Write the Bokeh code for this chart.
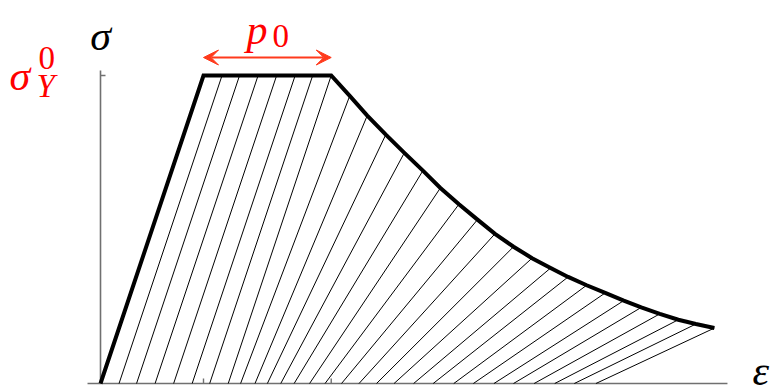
from bokeh.plotting import figure
from bokeh.models import Range1d, Arrow, VeeHead, ColumnDataSource
from bokeh.core.properties import value
from bokeh.embed import file_html
from bokeh.resources import INLINE

# Stress-strain response (strain in units of eps_y, stress in units of sigma_y)
eps_y = 1.0
sig_y = 1.0
p0 = 1.24

# unloading lines drawn from the plateau (elastic unloading, full stiffness)
plateau_eps = [1.18, 1.35, 1.53, 1.71, 1.89, 2.06, 2.24]
plateau_res = [0.18, 0.35, 0.53, 0.71, 0.89, 1.06, 1.24]

# softening branch: strain, stress and residual strain after unloading
soft_eps = [2.42, 2.59, 2.77, 2.95, 3.13, 3.30, 3.48, 3.66, 3.83, 4.01, 4.19,
            4.37, 4.54, 4.72, 4.90, 5.08, 5.25, 5.43, 5.61, 5.78, 5.96]
soft_sig = [0.934, 0.870, 0.808, 0.749, 0.691, 0.635, 0.582, 0.532, 0.486, 0.444, 0.407,
            0.375, 0.346, 0.319, 0.294, 0.269, 0.247, 0.226, 0.207, 0.193, 0.180]
soft_res = [1.36, 1.50, 1.62, 1.75, 1.88, 2.03, 2.18, 2.34, 2.51, 2.68, 2.85,
            3.04, 3.23, 3.43, 3.62, 3.82, 4.01, 4.21, 4.41, 4.60, 4.81]

# axis extents
x_axis_span = [-0.126, 6.087]
y_axis_top = 1.016

W, H = 784, 388
PX_X, PX_Y = 103.0, 308.0   # pixels per unit strain / stress
X0, Y0 = 100.0, 383.0       # pixel position of the origin


def dx(px):
    return (px - X0) / PX_X


def dy(py):
    return (Y0 - py) / PX_Y


p = figure(width=W, height=H, output_backend="svg", toolbar_location=None,
           x_axis_location=None, y_axis_location=None,
           x_range=Range1d(dx(0), dx(W)), y_range=Range1d(dy(H), dy(0)),
           min_border=0, min_border_left=0, min_border_right=0,
           min_border_top=0, min_border_bottom=0)
p.grid.visible = False
p.outline_line_color = None
p.background_fill_color = "white"
p.border_fill_color = "white"

axis_color = "#707070"
# axes
p.segment(x0=[x_axis_span[0]], y0=[0], x1=[x_axis_span[1]], y1=[0],
          line_color=axis_color, line_width=1.6)
p.segment(x0=[0], y0=[0], x1=[0], y1=[y_axis_top], line_color=axis_color, line_width=1.6)
# ticks at sigma_y, eps_y and eps_y + p0
tick_len_x = 5 / PX_X
tick_len_y = 5 / PX_Y
p.segment(x0=[0], y0=[sig_y], x1=[tick_len_x], y1=[sig_y], line_color=axis_color, line_width=1.4)
p.segment(x0=[eps_y, eps_y + p0], y0=[0, 0], x1=[eps_y, eps_y + p0], y1=[tick_len_y, tick_len_y],
          line_color=axis_color, line_width=1.4)

# unloading hatch lines
top_x = plateau_eps + soft_eps
top_y = [sig_y] * len(plateau_eps) + soft_sig
bot_x = plateau_res + soft_res
hatch = ColumnDataSource(dict(x0=top_x, y0=top_y, x1=bot_x, y1=[0] * len(bot_x)))
p.segment(x0="x0", y0="y0", x1="x1", y1="y1", source=hatch, line_color="black", line_width=1)

# envelope curve
curve_x = [0, eps_y, eps_y + p0] + soft_eps
curve_y = [0, sig_y, sig_y] + soft_sig
p.line(curve_x, curve_y, line_color="black", line_width=4, line_join="miter")

# p0 arrow
arrow_color = "#ff3a1c"
arrow_y = dy(57)
p.add_layout(Arrow(start=VeeHead(size=15, fill_color=arrow_color, line_color=arrow_color, line_width=1),
                   end=VeeHead(size=15, fill_color=arrow_color, line_color=arrow_color, line_width=1),
                   x_start=eps_y, y_start=arrow_y, x_end=eps_y + p0, y_end=arrow_y,
                   line_color=arrow_color, line_width=2.2))

FONT = value("Liberation Serif")


def add_text(txt, px, py, size, color="black", align="left", style="italic"):
    p.text(x=[dx(px)], y=[dy(py)], text=[txt], text_font=FONT, text_font_style=style,
           text_font_size=f"{size}px", text_color=color, text_align=align,
           text_baseline="alphabetic")


red = "#ff0000"
# sigma axis label
add_text("σ", 100, 35, 42, align="center")
# sigma_Y^0
add_text("σ", 9, 75, 42, color=red)
add_text("0", 38, 57, 33, color=red, style="normal")
add_text("Y", 36, 85, 33, color=red)
# p_0
add_text("p", 246, 29, 42, color=red)
add_text("0", 272, 35, 33, color=red, style="normal")
# strain axis label
add_text("ε", 752, 370, 42)

open("out.html", "w").write(file_html(p, INLINE))
